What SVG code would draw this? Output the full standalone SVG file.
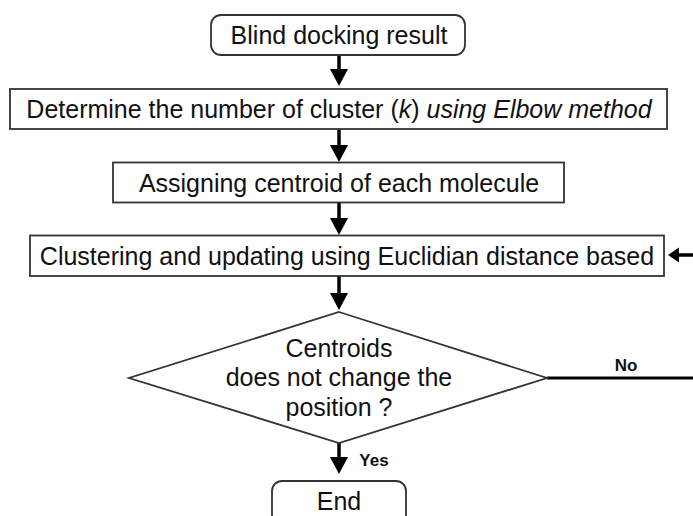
<svg xmlns="http://www.w3.org/2000/svg" width="693" height="516" viewBox="0 0 693 516">
<defs>
<style>
.box{fill:#fff;stroke:#333;stroke-width:1.8}
.t{font-family:"Liberation Sans",Arial,sans-serif;font-size:25px;fill:#111;text-anchor:middle}
.lbl{font-family:"Liberation Sans",Arial,sans-serif;font-size:17px;font-weight:bold;fill:#111;text-anchor:middle}
.arr{stroke:#000;stroke-width:3.5;fill:none}
.head{fill:#000}
</style>
</defs>
<rect width="693" height="516" fill="#fff"/>
<g id="connectors">
<line class="arr" x1="339" y1="55" x2="339" y2="70"/>
<polygon class="head" points="330,69 348,69 339,86"/>
<line class="arr" x1="339" y1="129" x2="339" y2="146"/>
<polygon class="head" points="330,145 348,145 339,162"/>
<line class="arr" x1="339" y1="203" x2="339" y2="219"/>
<polygon class="head" points="330,218 348,218 339,235"/>
<line class="arr" x1="339" y1="276" x2="339" y2="294"/>
<polygon class="head" points="330,293 348,293 339,310"/>
<line class="arr" x1="339" y1="443" x2="339" y2="458"/>
<polygon class="head" points="330,457 348,457 339,474"/>
<line x1="547" y1="378" x2="693" y2="378" stroke="#000" stroke-width="3.2"/>
<line class="arr" x1="676" y1="255" x2="693" y2="255"/>
<polygon class="head" points="679,247.5 679,262.5 668,255"/>
<text class="lbl" x="626" y="371">No</text>
<text class="lbl" x="374" y="466">Yes</text>
</g>
<g id="start">
<rect class="box" x="211" y="15" width="254" height="40" rx="10"/>
<text class="t" x="339" y="44">Blind docking result</text>
</g>
<g id="elbow">
<rect class="box" x="10" y="89" width="657" height="40"/>
<text class="t" x="339" y="118">Determine the number of cluster (<tspan font-style="italic">k</tspan>)<tspan font-style="italic"> using Elbow method</tspan></text>
</g>
<g id="assign">
<rect class="box" x="113" y="162.5" width="451" height="40"/>
<text class="t" x="339" y="191.5">Assigning centroid of each molecule</text>
</g>
<g id="cluster">
<rect class="box" x="30" y="235.5" width="634" height="40.5"/>
<text class="t" x="347" y="265">Clustering and updating using Euclidian distance based</text>
</g>
<g id="decision">
<polygon class="box" points="339,312 547,378 339,443 129,378"/>
<text class="t" x="339" y="357">Centroids</text>
<text class="t" x="339" y="386">does not change the</text>
<text class="t" x="339" y="416">position ?</text>
</g>
<g id="end">
<rect class="box" x="272" y="481" width="134" height="44" rx="10"/>
<text class="t" x="339" y="510">End</text>
</g>
</svg>
